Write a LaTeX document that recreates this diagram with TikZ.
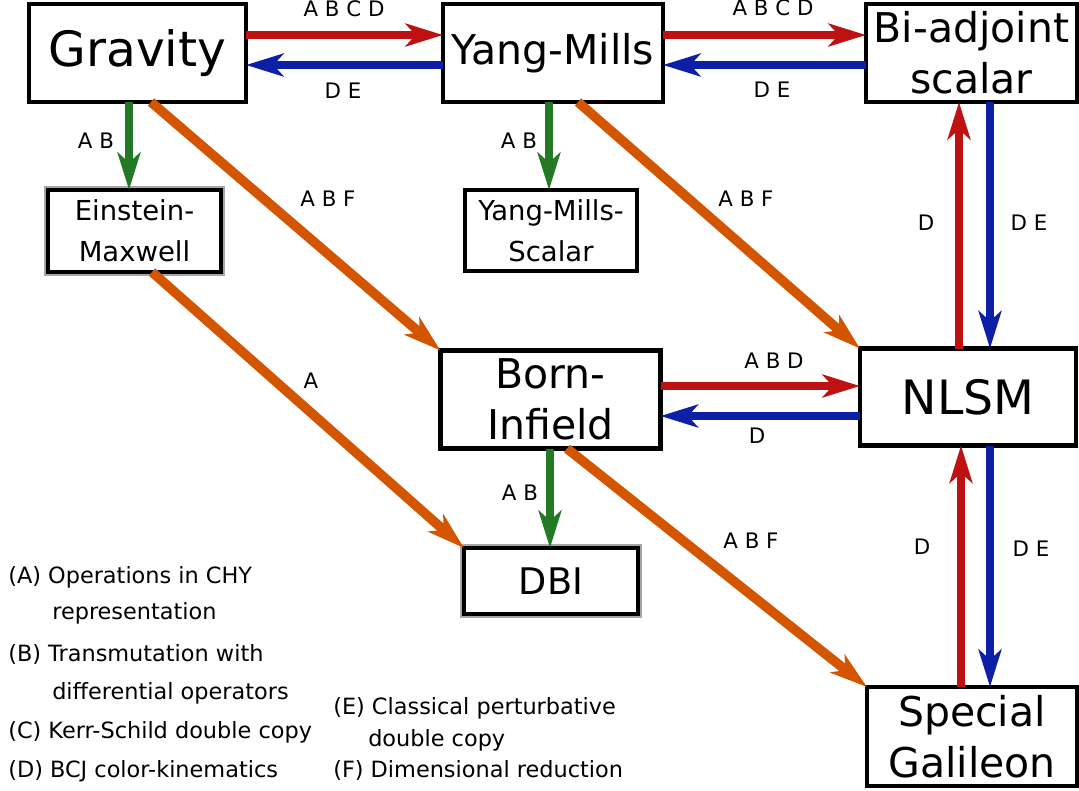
\documentclass[tikz,border=0pt]{standalone}
\usepackage{fontspec}
\setmainfont{DejaVu Sans}
\usetikzlibrary{arrows.meta,calc}
\definecolor{cred}{RGB}{190,17,17}
\definecolor{cblue}{RGB}{13,31,166}
\definecolor{cgreen}{RGB}{36,122,36}
\definecolor{corange}{RGB}{212,85,0}
\tikzset{
  box/.style={draw=black, line width=3.2pt, rectangle, inner sep=0pt, outer sep=0pt, align=center, fill=white},
  softbox/.style={box, preaction={draw=black!35, line width=6pt}},
  bigtxt/.style={font=\fontsize{30.75}{38}\selectfont},
  smalltxt/.style={font=\fontsize{20.6}{30.75}\selectfont},
  conn/.style={line width=6.6pt, -{Stealth[length=28pt,width=17pt,inset=7.5pt]}},
  rd/.style={conn, draw=cred},
  bl/.style={conn, draw=cblue},
  gn/.style={conn, draw=cgreen},
  og/.style={conn, draw=corange, line width=7.2pt},
  lab/.style={font=\fontsize{16}{19}\selectfont, inner sep=0pt, anchor=base},
  leg/.style={font=\fontsize{16.8}{20}\selectfont, inner sep=0pt, anchor=base west},
}
\begin{document}
\begin{tikzpicture}[x=0.75pt,y=-0.75pt]
\useasboundingbox (0,0) rectangle (1079,790);
\fill[white] (0,0) rectangle (1079,790);

% boxes
\node[box, font=\fontsize{36.5}{43}\selectfont, minimum width=162.75pt, minimum height=73.5pt] (grav) at (137.5,53) {Gravity};
\node[box, bigtxt, minimum width=165pt, minimum height=73.5pt] (ym) at (553,53) {Yang-Mills};
\node[box, bigtxt, minimum width=158.25pt, minimum height=73.5pt] (bi) at (971.5,53) {Bi-adjoint\\scalar};
\node[softbox, smalltxt, minimum width=129.75pt, minimum height=61.5pt] (em) at (134.5,231) {Einstein-\\Maxwell};
\node[box, smalltxt, minimum width=129pt, minimum height=60.75pt] (yms) at (551,230.5) {Yang-Mills-\\Scalar};
\node[box, bigtxt, minimum width=165pt, minimum height=73.5pt] (bo) at (550.5,399.5) {Born-\\Infield};
\node[box, font=\fontsize{35.5}{42}\selectfont, minimum width=162pt, minimum height=72.75pt] (nlsm) at (968,397) {NLSM};
\node[softbox, font=\fontsize{27.5}{33}\selectfont, minimum width=130.5pt, minimum height=49.5pt] (dbi) at (551,581) {DBI};
\node[box, bigtxt, minimum width=157.5pt, minimum height=74.25pt] (sg) at (972,736.5) {Special\\Galileon};

% horizontal connectors
\draw[rd] ($(grav.east)+(0,-18)$) coordinate (r0) -- (r0 -| ym.west);
\draw[bl] ($(ym.west)+(0,12)$) coordinate (b0) -- (b0 -| grav.east);
\draw[rd] ($(ym.east)+(0,-18)$) coordinate (r4) -- (r4 -| bi.west);
\draw[bl] ($(bi.west)+(0,12)$) coordinate (b4) -- (b4 -| ym.east);
\draw[rd] ($(bo.east)+(0,-13.5)$) coordinate (r1) -- (r1 -| nlsm.west);
\draw[bl] ($(nlsm.west)+(0,19)$) coordinate (b1) -- (b1 -| bo.east);

% vertical connectors
\draw[gn] ($(grav.south)+(-8.5,0)$) coordinate (g1) -- (g1 |- em.north);
\draw[gn] ($(ym.south)+(-4,0)$) coordinate (g2) -- (g2 |- yms.north);
\draw[gn] ($(bo.south)+(-0.5,0)$) coordinate (g3) -- (g3 |- dbi.north);
\draw[rd] ($(nlsm.north)+(-9,0)$) coordinate (r2) -- (r2 |- bi.south);
\draw[bl] ($(bi.south)+(18.5,0)$) coordinate (b2) -- (b2 |- nlsm.north);
\draw[rd] ($(sg.north)+(-11,0)$) coordinate (r3) -- (r3 |- nlsm.south);
\draw[bl] ($(nlsm.south)+(22,0)$) coordinate (b3) -- (b3 |- sg.north);

% diagonal connectors
\draw[og] ($(grav.south)+(13.5,0)$) -- (bo.north west);
\draw[og] ($(ym.south)+(25,0)$) -- (nlsm.north west);
\draw[og] ($(em.south)+(17.5,0)$) -- (dbi.north west);
\draw[og] ($(bo.south)+(16.5,0)$) -- (sg.north west);

% connector labels
\node[lab] (l1) at (344,16) {A B C D};
\node[lab] (l2) at (343,98) {D E};
\node[lab] (l3) at (773,15) {A B C D};
\node[lab] (l4) at (772,97) {D E};
\node[lab] (l5) at (96,148) {A B};
\node[lab] (l6) at (328,206) {A B F};
\node[lab] (l7) at (519,148) {A B};
\node[lab] (l8) at (746,206) {A B F};
\node[lab] (l9) at (926,230) {D};
\node[lab] (l10) at (1029,230) {D E};
\node[lab] (l11) at (774,368) {A B D};
\node[lab] (l12) at (757,443) {D};
\node[lab] (l13) at (520,500) {A B};
\node[lab] (l14) at (751,548) {A B F};
\node[lab] (l15) at (922,554) {D};
\node[lab] (l16) at (1031,556) {D E};
\node[lab] (l17) at (311,388) {A};

% legend
\node[leg] (ga) at (8,583) {(A) Operations in CHY};
\node[leg] (ga2) at (52,619) {representation};
\node[leg] (gb) at (8,661) {(B) Transmutation with};
\node[leg] (gb2) at (52,699) {differential operators};
\node[leg] (gc) at (8,738) {(C) Kerr-Schild double copy};
\node[leg] (gd) at (8,777) {(D) BCJ color-kinematics};
\node[leg] (ge) at (333,714) {(E) Classical perturbative};
\node[leg] (ge2) at (368,746) {double copy};
\node[leg] (gf) at (333,777) {(F) Dimensional reduction};
\end{tikzpicture}
\end{document}
